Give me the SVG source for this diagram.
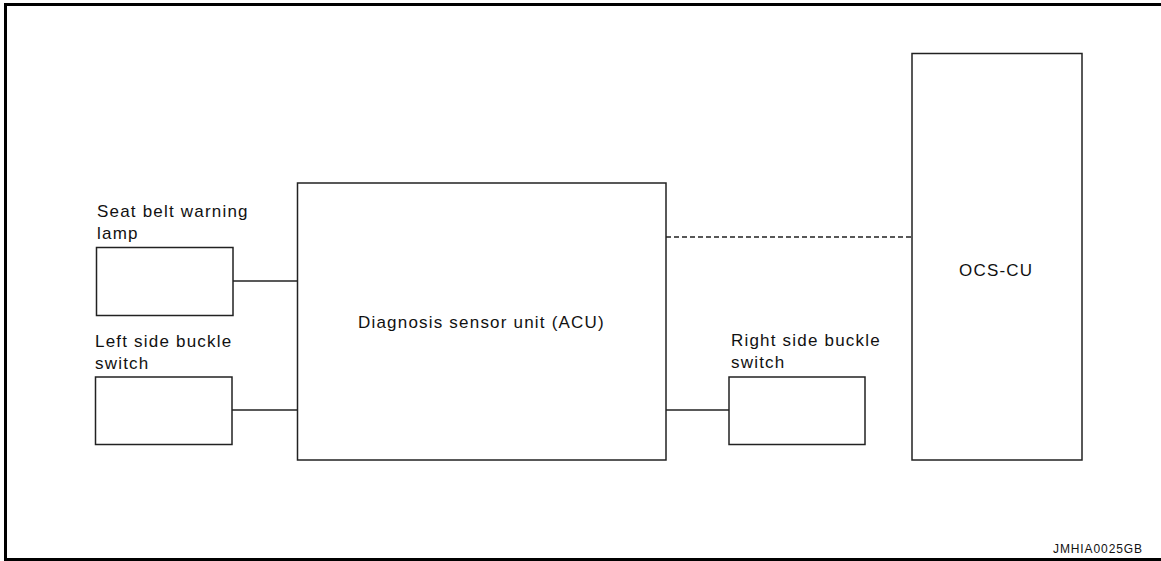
<svg xmlns="http://www.w3.org/2000/svg" width="1161" height="561" viewBox="0 0 1161 561">
<style>
.box{fill:#fff;stroke:#222;stroke-width:1.5}
.wire{fill:none;stroke:#222;stroke-width:1.5}
.dash{fill:none;stroke:#222;stroke-width:1.5;stroke-dasharray:5 3}
.lbl{font-family:"Liberation Sans",Arial,sans-serif;font-size:17px;letter-spacing:1.2px;fill:#111}
.code{font-family:"Liberation Sans",Arial,sans-serif;font-size:12px;letter-spacing:0.9px;fill:#111}
</style>
<rect width="1161" height="561" fill="#fff"/>
<g id="frame">
<path d="M1161 4.5H5.5V559.5H1161" fill="none" stroke="#000" stroke-width="3"/>
</g>
<g id="connectors">
<line class="wire" x1="233" y1="281" x2="297.5" y2="281"/>
<line class="wire" x1="232" y1="410" x2="297.5" y2="410"/>
<line class="wire" x1="666" y1="410" x2="729" y2="410"/>
<line class="dash" x1="666" y1="237" x2="912" y2="237"/>
</g>
<g id="acu">
<rect class="box" x="297.5" y="183" width="368.5" height="277"/>
<text class="lbl" x="358" y="328">Diagnosis sensor unit (ACU)</text>
</g>
<g id="ocs-cu">
<rect class="box" x="912" y="53.5" width="170" height="406.5"/>
<text class="lbl" x="959" y="276">OCS-CU</text>
</g>
<g id="seat-belt-warning-lamp">
<text class="lbl" x="97" y="217">Seat belt warning</text>
<text class="lbl" x="97" y="239">lamp</text>
<rect class="box" x="96.5" y="247.5" width="136.5" height="68"/>
</g>
<g id="left-side-buckle-switch">
<text class="lbl" x="95" y="347">Left side buckle</text>
<text class="lbl" x="95" y="369">switch</text>
<rect class="box" x="95.5" y="377" width="136.5" height="67.5"/>
</g>
<g id="right-side-buckle-switch">
<text class="lbl" x="731" y="346">Right side buckle</text>
<text class="lbl" x="731" y="368">switch</text>
<rect class="box" x="729" y="377" width="136" height="67.5"/>
</g>
<text class="code" x="1053" y="553">JMHIA0025GB</text>
</svg>
